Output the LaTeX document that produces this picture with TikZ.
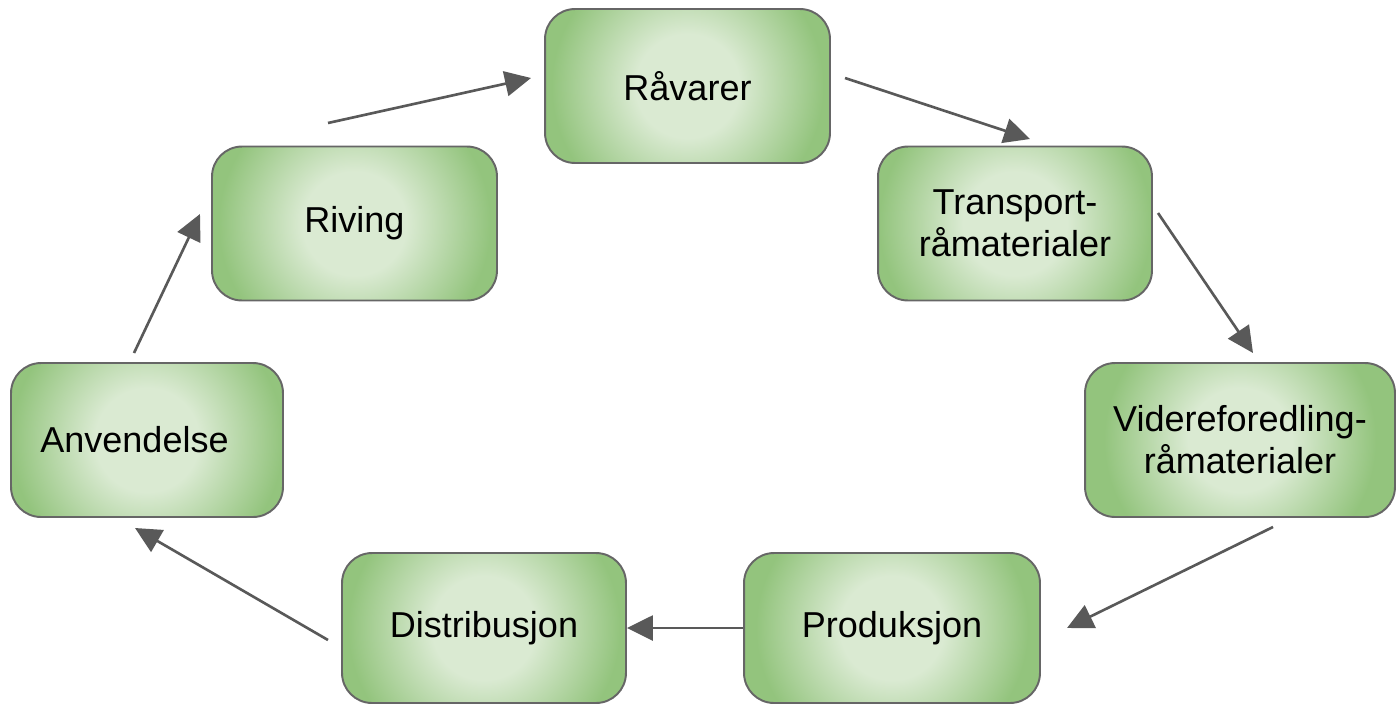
\documentclass[tikz,border=0pt]{standalone}
\usepackage{fontspec}
\setmainfont{Liberation Sans}
\usetikzlibrary{arrows.meta}

\definecolor{boxgreen}{HTML}{93C47D}
\definecolor{boxlight}{HTML}{DAEAD2}
\definecolor{boxedge}{HTML}{666666}
\definecolor{arrowgray}{HTML}{595959}
\pgfdeclareradialshading{stageshade}{\pgfpoint{0bp}{0bp}}{color(0bp)=(boxlight); color(6.5bp)=(boxlight); color(17bp)=(boxgreen); color(50bp)=(boxgreen)}

\begin{document}
\begin{tikzpicture}[x=0.02cm,y=-0.02cm]
    \tikzstyle{stage}=[draw=boxedge,line width=1.1pt,rounded corners=0.6cm,fill=boxgreen,
        path picture={\shade[shading=stageshade] (path picture bounding box.center) circle (4cm);},
        minimum height=3.08cm,inner sep=2pt,align=center,font=\fontsize{20.5}{24}\selectfont]
    \tikzstyle{flow}=[draw=arrowgray,line width=1.5pt,-{Triangle[length=0.52cm,width=0.5cm]}]
    \useasboundingbox (0,0) rectangle (1396,704);

    \node at (687.5,86) (raavarer) [stage, minimum width=5.7cm] {Råvarer};
    \node at (1015,223.5) (transport) [stage, minimum width=5.48cm] {Transport-\\råmaterialer};
    \node at (1240,440) (videre) [stage, minimum width=6.2cm] {Videreforedling-\\råmaterialer};
    \node at (892,628) (produksjon) [stage, minimum width=5.92cm, minimum height=3cm] {Produksjon};
    \node at (484,628) (distribusjon) [stage, minimum width=5.68cm, minimum height=3cm] {Distribusjon};
    \node at (147,440) (anvendelse) [stage, minimum width=5.44cm] {Anvendelse\hspace*{0.5cm}};
    \node at (354.5,223.5) (riving) [stage, minimum width=5.7cm] {Riving};

    % free ends of the arrows
    \coordinate (rivOut) at (328,123);   \coordinate (raaIn) at (531,78);
    \coordinate (raaOut) at (845,78);    \coordinate (traIn) at (1030,139);
    \coordinate (traOut) at (1158,213);  \coordinate (vidIn) at (1253,353);
    \coordinate (vidOut) at (1273,527);  \coordinate (proIn) at (1067,628);
    \coordinate (disOut) at (328,640);   \coordinate (anvIn) at (135,528);
    \coordinate (anvOut) at (134,353);   \coordinate (rivIn) at (200,214);

    \draw[flow] (rivOut) -- (raaIn);
    \draw[flow] (raaOut) -- (traIn);
    \draw[flow] (traOut) -- (vidIn);
    \draw[flow] (vidOut) -- (proIn);
    \draw[flow] (produksjon.west) -- (distribusjon.east);
    \draw[flow] (disOut) -- (anvIn);
    \draw[flow] (anvOut) -- (rivIn);

\end{tikzpicture}
\end{document}
